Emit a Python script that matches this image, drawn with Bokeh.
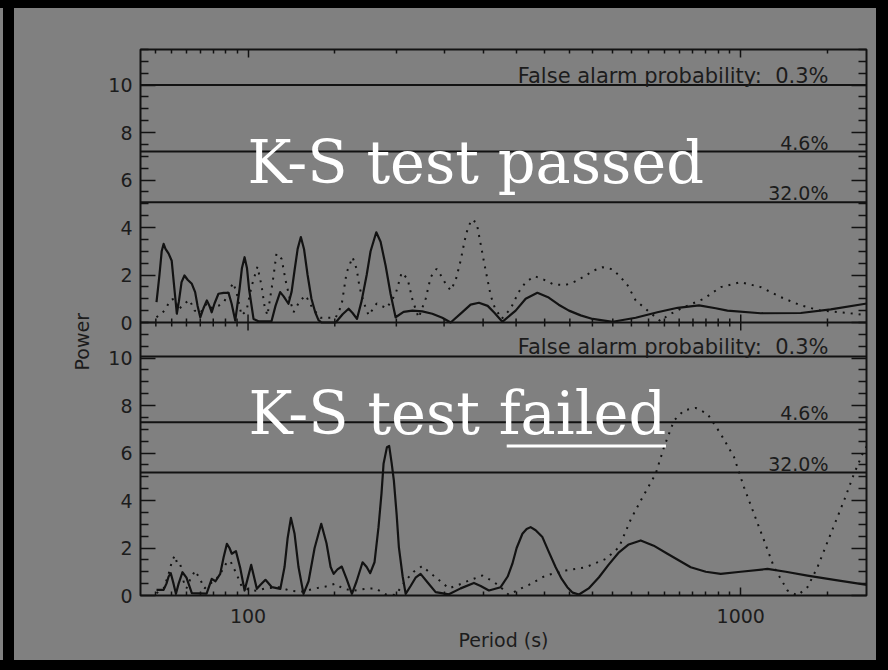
from math import pi
from bokeh.plotting import figure
from bokeh.layouts import column, row
from bokeh.models import (Range1d, LogAxis, LinearAxis, FixedTicker, Span, Label,
                          BoxAnnotation, Div, PrintfTickFormatter, CustomLabelingPolicy)
from bokeh.embed import file_html
from bokeh.resources import INLINE

# ---------------- data ----------------
top_solid_period = [65.2, 66.1, 66.8, 67.4, 68.0, 69.0, 70.0, 70.9, 71.7, 72.4, 73.3, 74.3, 75.4,
                    76.9, 78.1, 79.0, 80.0, 81.2, 82.5, 83.5, 84.4, 85.5, 87.1, 89.2, 91.3, 92.6,
                    94.2, 96.1, 97.2, 98.4, 99.5, 100.5, 102.6, 105.0, 111.6, 113.7, 116.2, 118.1,
                    120.8, 122.6, 124.3, 126.1, 128.0, 129.9, 132.1, 134.5, 136.9, 139.0, 141.0,
                    150.6, 155.6, 160.0, 163.0, 166.4, 170.0, 174.1, 177.3, 182.1, 185.8, 190.2,
                    194.7, 199.3, 206.9, 215.5, 225.8, 236.6, 247.9, 257.8, 272.6, 283.0, 294.2,
                    306.5, 316.6, 328.2, 349.3, 366.0, 386.6, 407.6, 427.1, 448.1, 473.3, 500.6,
                    549.7, 612.1, 677.4, 744.9, 823.0, 889.5, 939.7, 1098, 1324, 1523, 1803]
top_solid_power = [0.86, 2.0, 3.0, 3.31, 3.1, 2.9, 2.6, 1.4, 0.37, 0.9, 1.7, 1.98, 1.8,
                   1.63, 1.28, 0.7, 0.22, 0.6, 0.93, 0.7, 0.43, 0.8, 1.21, 1.25, 1.25, 0.8,
                   0.08, 1.4, 2.3, 2.75, 2.3, 1.4, 0.15, 0.05, 0.05, 0.7, 1.28, 1.1,
                   0.79, 1.3, 2.2, 3.1, 3.6, 3.1, 2.0, 1.0, 0.43, 0.1, 0.0,
                   0.0, 0.35, 0.58, 0.4, 0.15, 0.9, 2.0, 3.0, 3.8, 3.4, 2.4,
                   1.2, 0.22, 0.45, 0.5, 0.47, 0.37, 0.2, 0.0, 0.45, 0.75, 0.83,
                   0.7, 0.4, 0.03, 0.5, 1.0, 1.25, 1.05, 0.75, 0.5, 0.3, 0.15,
                   0.03, 0.2, 0.43, 0.62, 0.72, 0.6, 0.5, 0.39, 0.4, 0.55, 0.8]

top_dot_period = [65.2, 67.7, 69.6, 70.9, 72.3, 74.3, 76.1, 77.9, 80.0, 82.4, 84.7, 87.1, 89.6,
                  91.7, 93.4, 95.2, 97.0, 99.3, 101.6, 104.5, 106.5, 108.0, 109.5, 111.1, 112.7,
                  114.2, 117.0, 119.2, 122.0, 123.7, 127.3, 130.9, 135.2, 140.3, 150.6, 154.8,
                  158.5, 163.0, 166.1, 168.4, 171.6, 175.7, 182.4, 191.1, 199.3, 205.0, 210.8,
                  215.8, 222.0, 229.4, 234.8, 241.4, 246.0, 251.8, 257.8, 263.8, 270.1, 275.2,
                  279.1, 284.4, 291.1, 296.6, 302.2, 310.8, 316.6, 327.2, 341.2, 354.2, 366.0,
                  381.7, 398.1, 417.2, 441.2, 460.2, 482.3, 502.9, 524.6, 549.7, 570.6, 589.6,
                  612.1, 647.4, 688.0, 710.9, 766.1, 841.3, 910.7, 1000, 1098, 1206, 1324,
                  1454, 1596, 1696, 1803]
top_dot_power = [0.22, 0.5, 0.95, 1.0, 0.55, 0.8, 0.95, 0.5, 0.4, 0.8, 0.6, 0.7, 0.9,
                 1.4, 1.67, 1.1, 0.3, 0.5, 1.5, 2.35, 1.56, 0.7, 0.3, 1.14, 1.98,
                 2.9, 2.68, 1.77, 0.86, 0.43, 0.9, 1.14, 0.6, 0.2, 0.2, 0.72,
                 2.1, 2.75, 2.26, 1.49, 0.86, 0.3, 0.8, 0.6, 1.2, 2.1, 1.84,
                 0.93, 0.2, 1.0, 1.91, 2.26, 2.0, 1.63, 1.35, 1.77, 2.61, 3.45,
                 3.95, 4.34, 4.2, 3.3, 2.4, 1.14, 0.64, 0.15, 0.58, 1.28, 1.7,
                 1.95, 1.81, 1.6, 1.58, 1.72, 1.95, 2.19, 2.33, 2.24, 1.91, 1.56,
                 0.93, 0.5, 0.05, 0.3, 0.64, 1.0, 1.49, 1.7, 1.49, 1.07, 0.72,
                 0.5, 0.43, 0.37, 0.3]

bot_solid_period = [65.2, 67.4, 68.3, 69.0, 69.7, 70.6, 71.4, 72.3, 73.6, 75.0, 76.9, 82.4, 84.4,
                    85.9, 87.8, 89.2, 90.6, 91.7, 92.7, 94.5, 96.4, 98.4, 99.8, 101.5, 102.8,
                    104.2, 106.0, 108.5, 111.8, 116.3, 118.6, 120.3, 122.2, 124.3, 126.6, 129.6,
                    132.7, 136.5, 140.8, 144.3, 147.1, 149.2, 151.9, 155.0, 158.5, 162.5, 166.1,
                    170.8, 174.1, 177.0, 180.6, 184.0, 186.6, 188.4, 191.4, 193.4, 195.6, 197.7,
                    200.3, 202.4, 206.0, 208.9, 213.8, 218.8, 224.0, 231.5, 240.3, 255.7, 270.1,
                    287.4, 296.6, 308.3, 325.6, 336.5, 343.9, 350.9, 360.5, 367.7, 374.6, 383.5,
                    395.8, 407.6, 421.1, 433.1, 444.7, 456.0, 469.6, 491.3, 515.6, 539.5, 566.1,
                    592.5, 626.7, 665.8, 709.9, 791.6, 849.2, 910.7, 1000, 1133, 1234.5, 1365.9,
                    1559.9, 1803]
bot_solid_power = [0.24, 0.24, 0.5, 0.8, 0.94, 0.5, 0.07, 0.5, 0.98, 0.75, 0.1, 0.08, 0.7,
                   0.6, 0.91, 1.6, 2.18, 2.0, 1.76, 1.87, 1.17, 0.21, 0.7, 1.29, 0.8,
                   0.28, 0.45, 0.66, 0.35, 0.28, 1.2, 2.4, 3.27, 2.6, 1.2, 0.07,
                   0.6, 2.0, 3.02, 2.2, 1.2, 0.91, 1.1, 1.22, 0.7, 0.07, 0.6,
                   1.4, 1.2, 0.94, 1.4, 2.88, 4.3, 5.55, 6.25, 6.3, 5.6, 4.84,
                   3.4, 2.03, 0.8, 0.07, 0.4, 0.75, 0.91, 0.55, 0.14, 0.05, 0.3,
                   0.53, 0.4, 0.21, 0.35, 0.8, 1.33, 2.0, 2.6, 2.8, 2.88, 2.75,
                   2.46, 1.85, 1.19, 0.7, 0.35, 0.12, 0.04, 0.3, 0.77, 1.3, 1.82,
                   2.15, 2.32, 2.1, 1.76, 1.19, 1.0, 0.91, 1.0, 1.12, 1.0, 0.84,
                   0.65, 0.45]

bot_dot_period = [65.2, 67.4, 69.0, 70.2, 71.1, 71.9, 72.9, 74.0, 75.0, 76.4, 78.1, 80.0, 81.6,
                  83.9, 86.3, 88.3, 90.6, 92.1, 94.8, 97.0, 100.7, 104.0, 108.5, 115.3, 122.0,
                  127.8, 137.1, 143.7, 150.4, 155.6, 163.0, 173.2, 181.5, 190.2, 199.3, 208.9,
                  216.8, 225.8, 232.6, 240.3, 255.7, 267.6, 280.8, 299.0, 310.8, 323.0, 338.1,
                  354.2, 371.7, 401.9, 441.2, 484.5, 532.0, 566.1, 598.0, 626.7, 672.1, 698.7,
                  732.1, 767.2, 810.3, 856.0, 910.7, 969.2, 1015.5, 1064.1, 1115.1, 1168.5,
                  1244.3, 1303.3, 1365.9, 1431.3, 1523, 1620.8, 1698.3, 1767.2, 1803]
bot_dot_power = [0.1, 0.3, 0.9, 1.5, 1.68, 1.3, 1.3, 0.6, 0.3, 0.7, 1.05, 0.67, 0.3,
                 0.5, 0.7, 1.0, 1.4, 1.45, 0.9, 0.4, 0.22, 0.2, 0.3, 0.35, 0.2,
                 0.15, 0.3, 0.38, 0.5, 0.3, 0.2, 0.28, 0.3, 0.05, 0.02, 0.63,
                 1.0, 1.24, 1.0, 0.77, 0.3, 0.45, 0.63, 0.84, 0.65, 0.42, 0.03,
                 0.25, 0.45, 0.84, 1.05, 1.19, 1.54, 2.03, 3.2, 4.0, 5.13, 6.25,
                 7.37, 7.8, 7.9, 7.65, 6.81, 5.83, 4.56, 3.44, 2.32, 1.19,
                 0.21, 0.0, 0.35, 1.19, 2.6, 4.0, 5.13, 5.97, 6.3]

fap_labels = ["False alarm probability:\u00a0\u00a00.3%", "4.6%", "32.0%"]
top_fap_levels = [10.0, 7.2, 5.07]
bot_fap_levels = [10.07, 7.3, 5.18]

x_major = [100, 1000]
x_minor = [65, 70, 75, 80, 85, 90, 95, 150, 200, 250, 300, 350, 400, 450, 500, 550,
           600, 650, 700, 750, 800, 850, 900, 950, 1500]
y_major = [0, 2, 4, 6, 8, 10]
y_minor = [0.5, 1, 1.5, 2.5, 3, 3.5, 4.5, 5, 5.5, 6.5, 7, 7.5, 8.5, 9, 9.5, 10.5, 11, 11.5]

X_MIN, X_MAX = 60.5, 1800
Y_MIN, Y_MAX = 0.0, 11.5
PANEL = Y_MAX - Y_MIN          # height of one panel in power units

# ---------------- style ----------------
BG = "#808080"
INK = "#121212"
TXT = "#1c1c1c"
FONT = "DejaVu Sans"
SERIF = "DejaVu Serif"
FS = "19px"
HIDE = CustomLabelingPolicy(code="for (const i of indices) indices.unset(i)")


def style_axis(ax, major_len, minor_len, show_labels):
    ax.axis_line_color = None
    ax.major_tick_in = major_len
    ax.major_tick_out = 0
    ax.minor_tick_in = minor_len
    ax.minor_tick_out = 0
    ax.major_tick_line_color = INK
    ax.minor_tick_line_color = INK
    ax.major_tick_line_width = 1.5
    ax.minor_tick_line_width = 1.5
    ax.major_label_text_font = FONT
    ax.major_label_text_color = TXT
    if show_labels:
        ax.major_label_text_font_size = FS
    else:
        ax.major_label_text_font_size = "1px"
        ax.major_label_standoff = 0
        ax.major_label_policy = HIDE


# one plot area holding both panels: the lower panel uses the default y range,
# the upper panel uses the "top" range (both map 0..11.5 onto their half)
p = figure(width=781, height=652, x_axis_type="log",
           x_range=Range1d(X_MIN, X_MAX), y_range=Range1d(Y_MIN, Y_MIN + 2 * PANEL),
           output_backend="svg", toolbar_location=None,
           min_border_left=45, min_border_right=10, min_border_top=41, min_border_bottom=65,
           background_fill_color=BG, border_fill_color=BG,
           outline_line_color=INK, outline_line_width=2,
           x_axis_location=None, y_axis_location=None)
p.extra_y_ranges = {"top": Range1d(Y_MIN - PANEL, Y_MAX)}
for g in p.grid:
    g.visible = False

xt = FixedTicker(ticks=x_major, minor_ticks=x_minor)
y_ticks = y_major + [PANEL + v for v in y_major]
y_minors = y_minor + [PANEL + v for v in y_minor]
yt = FixedTicker(ticks=y_ticks, minor_ticks=y_minors)

below = LogAxis(ticker=xt, formatter=PrintfTickFormatter(format="%d"))
style_axis(below, 8, 4, True)
below.major_label_standoff = 13
below.axis_label = "Period (s)"
below.axis_label_text_font = FONT
below.axis_label_text_font_size = FS
below.axis_label_text_font_style = "normal"
below.axis_label_text_color = TXT
below.axis_label_standoff = 3
p.add_layout(below, "below")

above = LogAxis(ticker=xt)
style_axis(above, 8, 4, False)
p.add_layout(above, "above")

left = LinearAxis(ticker=yt)
style_axis(left, 15, 8, True)
left.major_label_standoff = 8
left.major_label_overrides = {PANEL + v: str(v) for v in y_major}
p.add_layout(left, "left")

right = LinearAxis(ticker=yt)
style_axis(right, 15, 8, False)
p.add_layout(right, "right")

# boundary between the panels with its ticks pointing both ways
p.add_layout(Span(location=0, dimension="width", y_range_name="top",
                  line_color=INK, line_width=2))
p.scatter(x=x_major, y=[0] * len(x_major), y_range_name="top", marker="dash",
          angle=pi / 2, size=16, line_color=INK, line_width=1.5)
p.scatter(x=x_minor, y=[0] * len(x_minor), y_range_name="top", marker="dash",
          angle=pi / 2, size=8, line_color=INK, line_width=1.5)

# curves
p.line(top_dot_period, top_dot_power, y_range_name="top",
       line_color=INK, line_width=2, line_dash="2 6")
p.line(top_solid_period, top_solid_power, y_range_name="top",
       line_color=INK, line_width=2.2, line_join="round")
p.line(bot_dot_period, bot_dot_power, line_color=INK, line_width=2, line_dash="2 6")
p.line(bot_solid_period, bot_solid_power, line_color=INK, line_width=2.2, line_join="round")


def fap(levels, rng):
    for lev, txt in zip(levels, fap_labels):
        p.add_layout(Span(location=lev, dimension="width", y_range_name=rng,
                          line_color=INK, line_width=2))
        p.add_layout(Label(x=X_MAX, y=lev, y_range_name=rng, x_offset=-38, y_offset=9,
                           text=txt, text_align="right", text_baseline="alphabetic",
                           text_font=FONT, text_font_size="21px" if len(txt) > 6 else FS,
                           text_color=TXT))


fap(top_fap_levels, "top")
fap(bot_fap_levels, "default")

p.add_layout(Label(x=X_MIN, y=0, y_range_name="top", x_offset=107, y_offset=160,
                   text="K-S test passed", text_align="left", text_baseline="alphabetic",
                   text_font=SERIF, text_font_size="59px", text_color="white"))
p.add_layout(Label(x=X_MIN, y=0, x_offset=108, y_offset=182,
                   text="K-S test failed", text_align="left", text_baseline="alphabetic",
                   text_font=SERIF, text_font_size="59px", text_color="white"))
# underline below "failed"
p.add_layout(BoxAnnotation(left=335, right=705, bottom=6.23, top=6.36,
                           fill_color="white", fill_alpha=1.0, line_color=None))

# y-axis title shared by both panels
lab = figure(width=81, height=652, x_range=Range1d(0, 81), y_range=Range1d(0, 652),
             output_backend="svg", toolbar_location=None, min_border=0,
             background_fill_color=BG, border_fill_color=BG, outline_line_color=None,
             x_axis_location=None, y_axis_location=None)
for g in lab.grid:
    g.visible = False
lab.add_layout(Label(x=67.5, y=303, text="Power", angle=90, angle_units="deg",
                     text_align="center", text_baseline="middle",
                     text_font=FONT, text_font_size=FS, text_color=TXT))


def block(w, h, color):
    return Div(text="", width=w, height=h, margin=0,
               styles={"background-color": color})


layout = column(
    block(888, 8, "#000000"),
    row(block(3, 652, BG), block(11, 652, "#000000"), lab, p,
        block(12, 652, "#000000"), spacing=0, styles={"background-color": BG}),
    block(888, 10, "#000000"),
    spacing=0, styles={"background-color": "#000000"},
)

open("out.html", "w").write(file_html(layout, INLINE))
